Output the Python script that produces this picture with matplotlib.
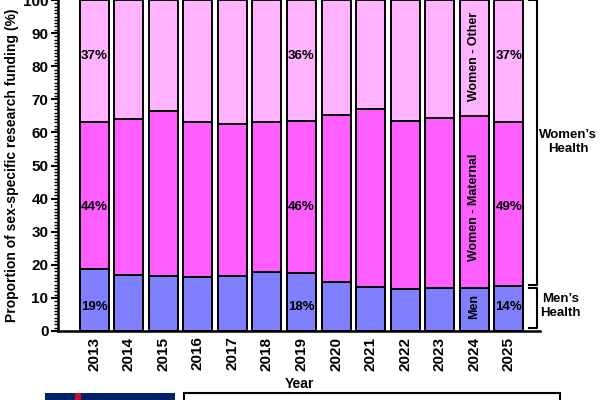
import numpy as np
import matplotlib.pyplot as plt
from matplotlib.patches import Rectangle
from matplotlib.ticker import MultipleLocator

plt.rcParams['font.family'] = ['Liberation Sans', 'DejaVu Sans']
plt.rcParams['font.weight'] = 'bold'

years = ['2013', '2014', '2015', '2016', '2017', '2018', '2019',
         '2020', '2021', '2022', '2023', '2024', '2025']
men = [18.7, 17.0, 16.5, 16.4, 16.5, 17.8, 17.5, 14.7, 13.3, 12.8, 13.1, 12.9, 13.7]
maternal = [44.3, 46.9, 50.0, 46.8, 45.9, 45.4, 46.0, 50.6, 53.7, 50.7, 51.2, 52.1, 49.5]
other = [37.0, 36.1, 33.5, 36.8, 37.6, 36.8, 36.5, 34.7, 33.0, 36.5, 35.7, 35.0, 36.8]

# which bars get percentage labels
label_idx = [0, 6, 12]
men_lbl = ['19%', '18%', '14%']
mat_lbl = ['44%', '46%', '49%']
oth_lbl = ['37%', '36%', '37%']

col_men = '#8080FF'
col_mat = '#FF5EFF'
col_oth = '#FFB3FF'

fig = plt.figure(figsize=(6, 4), dpi=100)
ax = fig.add_axes([0.097, 0.1725, 0.803, 0.8275])

x = np.arange(len(years))
men = np.array(men)
maternal = np.array(maternal)
other = np.array(other)
kw = dict(width=0.84, edgecolor='black', linewidth=1.4)
ax.bar(x, men, color=col_men, **kw)
ax.bar(x, maternal, bottom=men, color=col_mat, **kw)
ax.bar(x, other, bottom=men + maternal, color=col_oth, **kw)

for i, a, b, c in zip(label_idx, men_lbl, mat_lbl, oth_lbl):
    ax.text(i, 7.3, a, ha='center', va='center', fontsize=9.5, fontweight='bold')
    ax.text(i, 37.5, b, ha='center', va='center', fontsize=9.5, fontweight='bold')
    ax.text(i, 83, c, ha='center', va='center', fontsize=9.5, fontweight='bold')

ax.text(11, 7.3, 'Men', rotation=90, ha='center', va='center', fontsize=9, fontweight='bold')
ax.text(11, 37.5, 'Women - Maternal', rotation=90, ha='center', va='center', fontsize=9, fontweight='bold')
ax.text(11, 83, 'Women - Other', rotation=90, ha='center', va='center', fontsize=9, fontweight='bold')

ax.set_xlim(-1.04, 12.9)
ax.set_ylim(0, 100)
ax.set_xticks(x)
ax.set_xticklabels(years, rotation=90, fontsize=11, fontweight='bold')
ax.tick_params(axis='x', length=0, pad=4)
ax.yaxis.set_major_locator(MultipleLocator(10))
ax.yaxis.set_minor_locator(MultipleLocator(1))
ax.tick_params(axis='y', which='major', length=5, width=1.5, labelsize=11, pad=2)
ax.tick_params(axis='y', which='minor', length=3, width=1)
for t in ax.get_yticklabels():
    t.set_fontweight('bold')
ax.spines['top'].set_visible(False)
ax.spines['right'].set_visible(False)
ax.spines['left'].set_linewidth(1.8)
ax.spines['bottom'].set_linewidth(1.8)
ax.set_xlabel('Year', fontsize=10, fontweight='bold', labelpad=5)
ax.set_ylabel('Proportion of sex-specific research funding (%)', fontsize=10,
              fontweight='bold', labelpad=3)

# brackets on the right
bx, tx = 12.8, 12.57
ax.plot([tx, bx, bx, tx], [100, 100, 14.0, 14.0], color='black', lw=1.5, clip_on=False)
ax.plot([tx, bx, bx, tx], [12.9, 12.9, 1.0, 1.0], color='black', lw=1.5, clip_on=False)
ax.text(13.72, 57, "Women\u2019s\nHealth", ha='center', va='center', fontsize=9.5,
        fontweight='bold', linespacing=1.2, clip_on=False)
ax.text(13.5, 7.5, "Men\u2019s\nHealth", ha='center', va='center', fontsize=9.5,
        fontweight='bold', linespacing=1.2, clip_on=False)

# cut-off flag and box at the bottom edge
fig.patches.append(Rectangle((45 / 600, 0), 130 / 600, 7 / 400, transform=fig.transFigure,
                             facecolor='#012169', edgecolor='none'))
fig.patches.append(Rectangle((75 / 600, 0), 6 / 600, 7 / 400, transform=fig.transFigure,
                             facecolor='#C8102E', edgecolor='none'))
fig.patches.append(Rectangle((184 / 600, -0.01), 376 / 600, 7 / 400 + 0.01,
                             transform=fig.transFigure, facecolor='white',
                             edgecolor='black', linewidth=1.5))

fig.savefig('out.png', dpi=100)
